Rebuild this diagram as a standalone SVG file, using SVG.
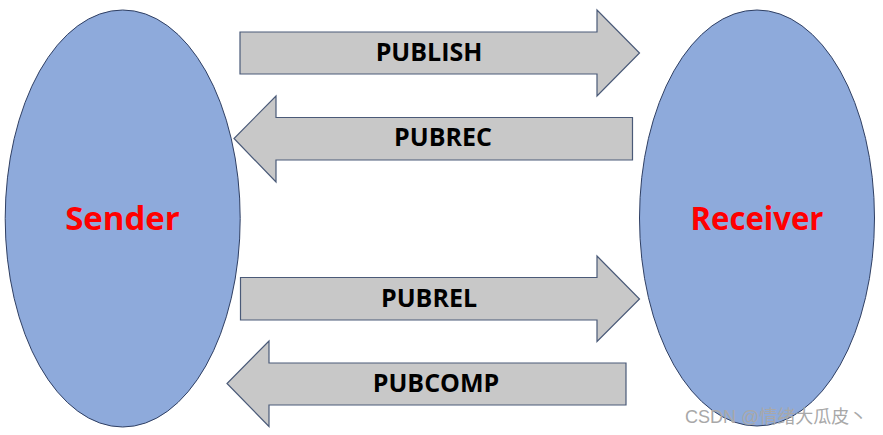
<svg xmlns="http://www.w3.org/2000/svg" width="883" height="435" viewBox="0 0 883 435">
<style>
.node{fill:#8EAADB;stroke:#2F3F63;stroke-width:1}
.arrow{fill:#C8C8C8;stroke:#4A5A78;stroke-width:1.2;stroke-linejoin:miter}
.lbl{font-family:"Open Sans","Noto Sans","DejaVu Sans",sans-serif;font-weight:bold;font-size:25px;fill:#000;text-anchor:middle}
.big{font-family:"Open Sans","Noto Sans","DejaVu Sans",sans-serif;font-weight:bold;font-size:33px;fill:#FF0000;text-anchor:middle}
.wm{font-family:"Liberation Sans","Noto Sans CJK SC",sans-serif;font-size:18px;fill:#A8A8A8}
</style>
<rect width="883" height="435" fill="#fff"/>
<g id="sender">
<ellipse class="node" cx="122.7" cy="218.5" rx="117.5" ry="208.5"/>
<text class="big" x="122.5" y="230">Sender</text>
</g>
<g id="receiver">
<ellipse class="node" cx="757" cy="218" rx="117.5" ry="208"/>
<text class="big" x="757" y="230" textLength="133" lengthAdjust="spacingAndGlyphs">Receiver</text>
</g>
<g id="connectors">
<g id="publish">
<polygon class="arrow" points="240,32 597,32 597,10 639.5,53 597,96 597,74 240,74"/>
<text class="lbl" x="429" y="61">PUBLISH</text>
</g>
<g id="pubrec">
<polygon class="arrow" points="632.5,117.5 276,117.5 276,96 234,138.5 276,182 276,160 632.5,160"/>
<text class="lbl" x="443" y="146">PUBREC</text>
</g>
<g id="pubrel">
<polygon class="arrow" points="240.5,277.5 597,277.5 597,256 639.5,299 597,341.5 597,320 240.5,320"/>
<text class="lbl" x="429" y="306.5">PUBREL</text>
</g>
<g id="pubcomp">
<polygon class="arrow" points="626,363 269,363 269,341 227,383.5 269,426.5 269,405 626,405"/>
<text class="lbl" x="436" y="391.5">PUBCOMP</text>
</g>
</g>
<text class="wm" x="685" y="423">CSDN @情绪大瓜皮丶</text>
</svg>
